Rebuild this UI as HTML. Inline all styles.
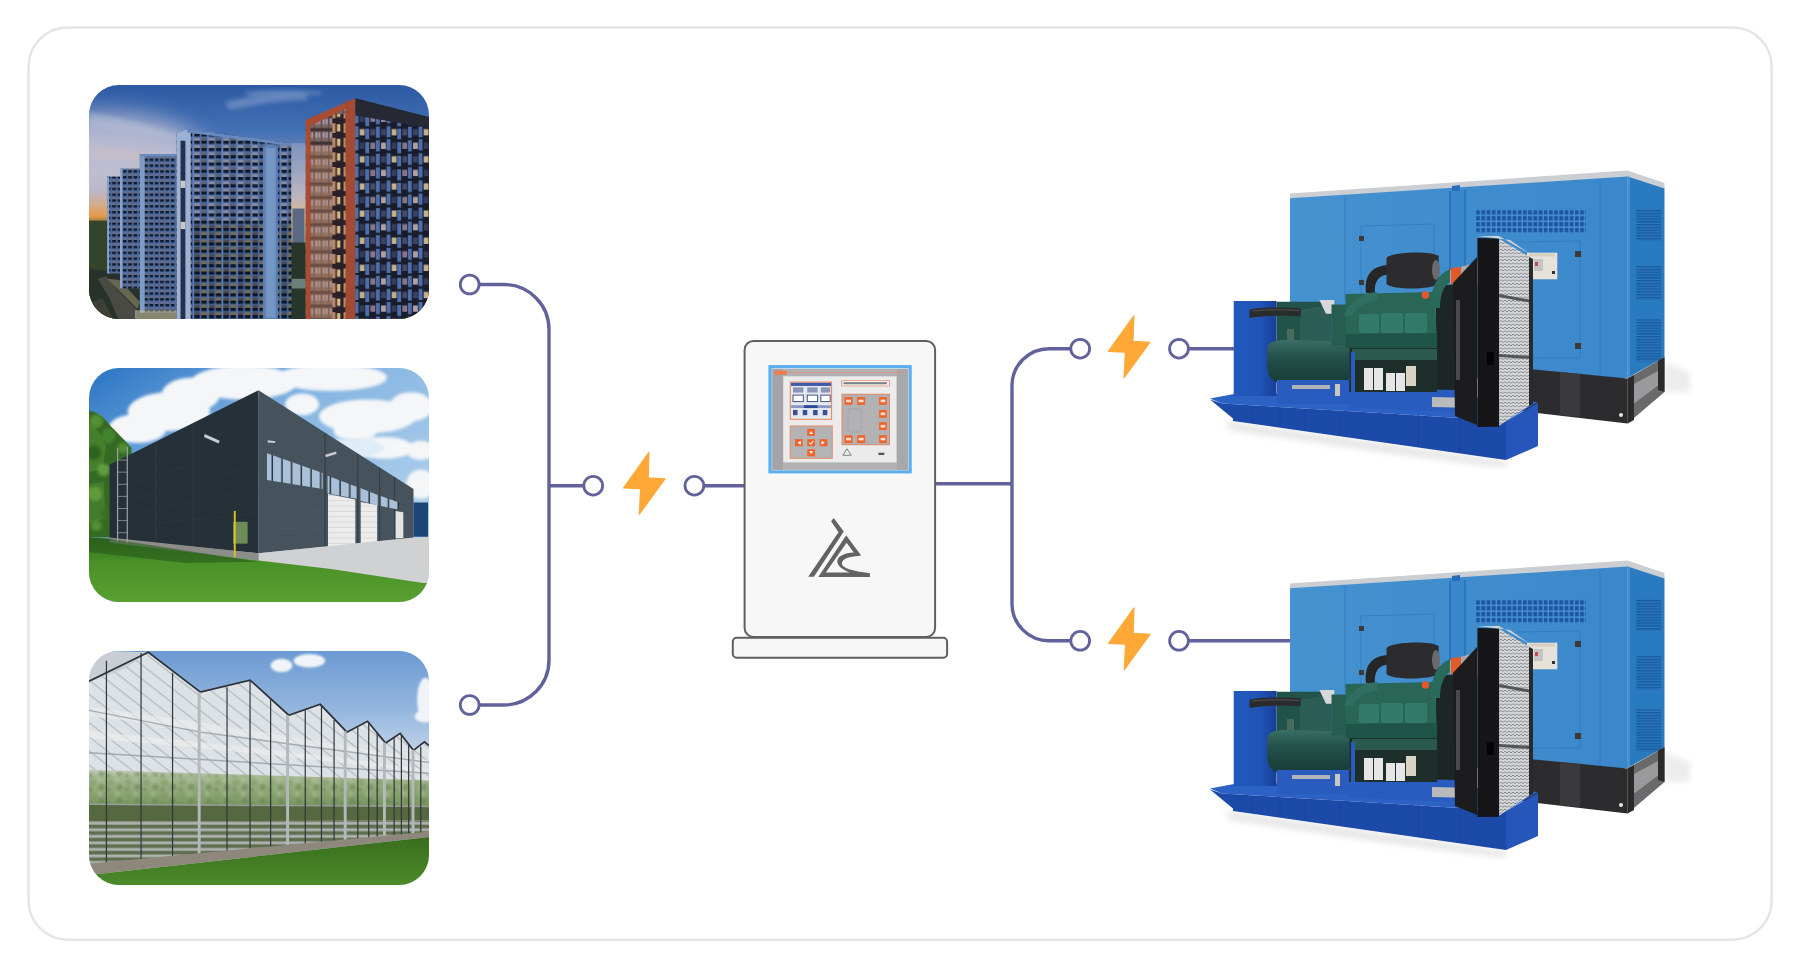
<!DOCTYPE html>
<html><head><meta charset="utf-8">
<style>
html,body{margin:0;padding:0;background:#fff;width:1801px;height:966px;overflow:hidden;font-family:"Liberation Sans",sans-serif;}
.card{position:absolute;left:27px;top:26px;width:1742px;height:911px;border:2px solid #e6e6e6;border-radius:40px;background:#fff;}
.ph{position:absolute;left:89px;width:340px;height:234px;border-radius:30px;overflow:hidden;}
.ph svg{display:block;width:340px;height:234px;}
svg.abs{position:absolute;left:0;top:0;}
</style></head><body>
<svg class="abs" width="1801" height="966"><rect x="28.55" y="27.45" width="1743.1" height="912.2" rx="39" fill="#fff" stroke="#e5e5e5" stroke-width="2.5"/></svg>

<!-- PHOTOS -->
<div class="ph" id="p1" style="top:85px;"><svg viewBox="0 0 1404 966" preserveAspectRatio="none">
<defs>
<filter id="p1blur"><feGaussianBlur stdDeviation="8"/></filter><filter id="p1blur2" x="-50%" y="-50%" width="200%" height="200%"><feGaussianBlur stdDeviation="50"/></filter>
<linearGradient id="p1pale" x1="0" y1="0" x2="1" y2="0"><stop offset="0" stop-color="#c8c4d4" stop-opacity="0.55"/><stop offset="1" stop-color="#c8c4d4" stop-opacity="0"/></linearGradient>
<linearGradient id="p1sky" x1="0" y1="0" x2="0" y2="1">
<stop offset="0" stop-color="#2c5aa4"/><stop offset="0.2" stop-color="#4470b4"/><stop offset="0.33" stop-color="#7a90bc"/>
<stop offset="0.44" stop-color="#a8a4b8"/><stop offset="0.51" stop-color="#d8a878"/><stop offset="0.56" stop-color="#e89a48"/><stop offset="0.6" stop-color="#5a6a40"/><stop offset="1" stop-color="#2a3a26"/>
</linearGradient>
<linearGradient id="p1gap" x1="0" y1="0" x2="0" y2="1">
<stop offset="0" stop-color="#7c94c0"/><stop offset="0.5" stop-color="#b8b4c0"/><stop offset="0.75" stop-color="#e0b888"/><stop offset="1" stop-color="#c8a070"/>
</linearGradient>
<pattern id="p1wD" patternUnits="userSpaceOnUse" width="60" height="30" x="10" y="5">
<rect width="60" height="30" fill="#4e72ac"/><rect x="5" y="3" width="22" height="12" fill="#8a8a9c"/><rect x="5" y="15" width="22" height="13" fill="#131a2a"/><rect x="34" y="3" width="22" height="12" fill="#5e6072"/><rect x="34" y="15" width="22" height="13" fill="#111726"/><rect x="0" y="0" width="3" height="30" fill="#7090c4"/>
</pattern>
<pattern id="p1wD2" patternUnits="userSpaceOnUse" width="60" height="30" x="10" y="5">
<rect width="60" height="30" fill="#46689e"/><rect x="5" y="3" width="22" height="12" fill="#4c4a50"/><rect x="5" y="15" width="22" height="13" fill="#0f1522"/><rect x="34" y="3" width="22" height="12" fill="#7a6a50"/><rect x="34" y="15" width="22" height="13" fill="#0f1522"/><rect x="0" y="0" width="3" height="30" fill="#6888bc"/>
</pattern>
<pattern id="p1wC" patternUnits="userSpaceOnUse" width="22" height="24" x="4" y="4">
<rect width="22" height="24" fill="#4a6ca4"/><rect x="4" y="3" width="15" height="9" fill="#6a6c80"/><rect x="4" y="12" width="15" height="10" fill="#121a2a"/>
</pattern>
<pattern id="p1wE" patternUnits="userSpaceOnUse" width="132" height="112" x="14" y="0">
<rect width="132" height="112" fill="#191d2b"/>
<g fill="#4d6fae"><rect x="27" y="0" width="16" height="46"/><rect x="71" y="12" width="16" height="46"/><rect x="115" y="4" width="16" height="46"/><rect x="27" y="58" width="16" height="46"/><rect x="71" y="68" width="16" height="44"/><rect x="115" y="60" width="16" height="46"/></g>
<rect x="4" y="14" width="20" height="26" fill="#b0a0a4"/><rect x="48" y="14" width="20" height="26" fill="#383c58"/><rect x="92" y="14" width="20" height="26" fill="#8a7488"/>
<rect x="4" y="70" width="20" height="26" fill="#3c4262"/><rect x="48" y="70" width="20" height="26" fill="#c4b08e"/><rect x="92" y="70" width="20" height="26" fill="#4a4a66"/>
</pattern>
<pattern id="p1wEL" patternUnits="userSpaceOnUse" width="30" height="56" x="0" y="20">
<rect width="30" height="56" fill="#4e3e40"/><rect x="3" y="6" width="24" height="40" fill="#a4949c"/><rect x="14" y="6" width="3" height="40" fill="#6a5a62"/><rect x="3" y="30" width="24" height="16" fill="#7a6460"/><rect x="0" y="46" width="30" height="10" fill="#3e3030"/>
</pattern>
<pattern id="p1wEC" patternUnits="userSpaceOnUse" width="55" height="60" x="0" y="30">
<rect width="55" height="60" fill="#2a2028"/><rect x="6" y="8" width="22" height="40" fill="#b88a6a"/><rect x="34" y="12" width="14" height="30" fill="#d8b880"/>
</pattern>
</defs>
<rect width="1404" height="966" fill="url(#p1sky)"/>
<ellipse cx="60" cy="290" rx="420" ry="170" fill="#c8c4d6" opacity="0.85" filter="url(#p1blur2)"/>
<g filter="url(#p1blur)">
<path d="M0,115 C150,135 300,185 380,205 L380,232 C280,215 120,190 0,175Z" fill="#b8c0d8" opacity="0.5"/>
<path d="M0,250 C120,260 250,280 380,295 L380,330 C250,320 100,305 0,305Z" fill="#d4c0c0" opacity="0.45"/>
<path d="M560,70 C700,40 820,30 900,40 L900,62 C800,62 680,82 580,102Z" fill="#98acd4" opacity="0.5"/>
<path d="M640,30 C740,20 840,20 960,28 L960,40 C840,36 740,38 660,46Z" fill="#a8b8dc" opacity="0.45"/>
</g>
<rect x="835" y="240" width="60" height="420" fill="url(#p1gap)"/>
<rect x="840" y="510" width="50" height="150" fill="#5a6a84"/>
<rect x="835" y="650" width="60" height="316" fill="#27362a"/>
<rect x="835" y="800" width="60" height="40" fill="#6a8078"/>
<rect x="0" y="560" width="80" height="406" fill="#34442c"/>
<path d="M0,760 L360,800 L360,966 L0,966Z" fill="#26322a"/>
<path d="M35,800 L70,790 L120,850 L200,930 L190,966 L120,966 L85,880Z" fill="#4a4a44"/>
<path d="M75,800 L125,805 L210,895 L200,925Z" fill="#b8a880" opacity="0.45"/>
<path d="M0,900 L55,880 L100,966 L0,966Z" fill="#3e4036"/>
<rect x="75" y="378" width="56" height="400" fill="url(#p1wC)"/>
<rect x="75" y="378" width="8" height="400" fill="#8aa4cc"/>
<rect x="128" y="345" width="87" height="495" fill="url(#p1wC)"/>
<rect x="128" y="345" width="10" height="495" fill="#8aa4cc"/>
<rect x="210" y="285" width="152" height="655" fill="url(#p1wC)"/>
<rect x="210" y="285" width="20" height="655" fill="#7e9cc8"/>
<rect x="210" y="285" width="152" height="10" fill="#6c8cc0"/>
<rect x="190" y="930" width="180" height="36" fill="#c8c0a0" opacity="0.6"/>
<path d="M362,200 L405,183 L835,240 L835,966 L362,966Z" fill="url(#p1wD)"/>
<path d="M420,560 L835,570 L835,966 L420,966Z" fill="url(#p1wD2)"/>
<path d="M362,200 L405,183 L420,190 L420,966 L362,966Z" fill="#9ab2d6"/>
<rect x="378" y="230" width="20" height="736" fill="#26304a"/>
<rect x="378" y="395" width="20" height="30" fill="#c8c8c8"/>
<rect x="378" y="565" width="20" height="30" fill="#c8c8c8"/>
<rect x="718" y="250" width="62" height="716" fill="#5a80b8"/>
<rect x="730" y="260" width="40" height="700" fill="#a8bcd8" opacity="0.35"/>
<path d="M405,183 L835,240 L835,252 L405,196Z" fill="#6888c0"/>
<path d="M895,145 L1100,55 L1100,966 L895,966Z" fill="url(#p1wEL)"/>
<path d="M915,250 L1005,250 L1005,966 L915,966Z" fill="#c08860" opacity="0.35"/>
<rect x="1005" y="120" width="55" height="846" fill="url(#p1wEC)"/>
<path d="M895,145 L1100,55 L1100,80 L915,168 L915,966 L895,966Z" fill="#a84c34"/>
<rect x="1060" y="65" width="40" height="901" fill="#a44a32"/>
<path d="M1100,55 L1404,135 L1404,966 L1100,966Z" fill="url(#p1wE)"/>
<path d="M1100,55 L1404,132 L1404,178 L1100,126Z" fill="#262934"/>
</svg></div>
<div class="ph" id="p2" style="top:368px;"><svg viewBox="0 0 1404 966" preserveAspectRatio="none">
<defs>
<linearGradient id="p2sky" x1="0" y1="0" x2="1" y2="1">
<stop offset="0" stop-color="#2a74c4"/><stop offset="0.4" stop-color="#86b6e2"/><stop offset="1" stop-color="#c4dcf0"/>
</linearGradient>
<linearGradient id="p2grass" x1="0" y1="0" x2="0" y2="1">
<stop offset="0" stop-color="#2e6a1e"/><stop offset="0.4" stop-color="#4a9228"/><stop offset="1" stop-color="#58a030"/>
</linearGradient>
<pattern id="p2win" patternUnits="userSpaceOnUse" width="40" height="200" x="0" y="0">
<rect width="40" height="200" fill="#a8c0d8"/><rect x="34" width="6" height="200" fill="#2a3036"/>
</pattern>
<pattern id="p2door" patternUnits="userSpaceOnUse" width="20" height="22">
<rect width="20" height="22" fill="#ececec"/><rect y="20" width="20" height="2" fill="#c8c8c8"/>
</pattern>
<filter id="blur6"><feGaussianBlur stdDeviation="6"/></filter>
</defs>
<rect width="1404" height="966" fill="url(#p2sky)"/>
<g fill="#f4f6f8" filter="url(#blur6)">
<ellipse cx="330" cy="180" rx="170" ry="80"/><ellipse cx="200" cy="250" rx="120" ry="60"/><ellipse cx="420" cy="110" rx="120" ry="70"/>
<ellipse cx="640" cy="60" rx="220" ry="70"/><ellipse cx="1000" cy="40" rx="230" ry="55"/><ellipse cx="880" cy="150" rx="70" ry="45"/>
<ellipse cx="1150" cy="200" rx="200" ry="70"/><ellipse cx="1330" cy="160" rx="90" ry="60"/><ellipse cx="1220" cy="330" rx="120" ry="45"/>
<ellipse cx="1370" cy="340" rx="60" ry="40"/><ellipse cx="1370" cy="480" rx="60" ry="60"/><ellipse cx="1100" cy="260" rx="90" ry="40"/>
</g>
<ellipse cx="1080" cy="330" rx="140" ry="40" fill="#e0ecf6" filter="url(#blur6)"/>
<path d="M0,175 C30,180 60,200 90,240 C120,270 150,300 175,330 L180,700 L0,700Z" fill="#356a24"/>
<path d="M0,230 C30,240 50,280 70,320 L55,420 L0,430Z" fill="#4e8a32" opacity="0.7"/>
<path d="M0,480 L60,470 L70,620 L0,640Z" fill="#4a8430" opacity="0.7"/>
<g filter="url(#blur6)" opacity="0.8"><circle cx="30" cy="220" r="28" fill="#5c9a3a"/><circle cx="80" cy="280" r="30" fill="#4a8a30"/><circle cx="20" cy="350" r="30" fill="#2c5a1c"/><circle cx="60" cy="420" r="26" fill="#6aa848"/><circle cx="140" cy="330" r="22" fill="#5a9638"/><circle cx="25" cy="520" r="30" fill="#6aa040"/><circle cx="70" cy="600" r="24" fill="#3a7024"/><circle cx="30" cy="650" r="22" fill="#5a9a38"/></g>
<path d="M85,398 L180,352 L700,92 L700,765 L85,705Z" fill="#263038"/>
<g stroke="#34404a" stroke-width="2" opacity="0.8"><path d="M180,420 L700,200"/><path d="M180,480 L700,300"/><path d="M180,540 L700,400"/><path d="M180,600 L700,500"/><path d="M180,650 L700,600"/></g>
<path d="M700,92 L1340,500 L1340,702 L700,765Z" fill="#46525c"/>
<g stroke="#52606a" stroke-width="2" opacity="0.8"><path d="M700,240 L1340,560"/><path d="M700,560 L1340,640"/><path d="M700,660 L1340,675"/></g>
<g stroke="#323c44" stroke-width="4">
<path d="M430,238 V735"/><path d="M275,315 V718"/><path d="M975,270 V745"/><path d="M1110,355 V728"/><path d="M1200,412 V718"/><path d="M1262,450 V710"/>
</g>
<path d="M735,352 L965,433 L965,500 L735,462Z" fill="url(#p2win)"/>
<path d="M985,445 L1105,490 L1105,540 L985,518Z" fill="url(#p2win)"/>
<path d="M1120,495 L1195,525 L1195,568 L1120,548Z" fill="url(#p2win)"/>
<path d="M1205,528 L1280,555 L1280,585 L1205,570Z" fill="url(#p2win)"/>
<path d="M987,520 L1100,543 L1100,735 L987,745Z" fill="url(#p2door)"/>
<path d="M1122,553 L1190,566 L1190,718 L1122,724Z" fill="url(#p2door)"/>
<path d="M1266,590 L1298,595 L1298,702 L1266,704Z" fill="#e4e4e4"/>
<path d="M1340,555 L1400,555 L1400,697 L1340,697Z" fill="#1c4678"/>
<path d="M700,765 L1340,700 L1404,700 L1404,888 L1380,888 L1000,832 L700,800Z" fill="#cfd1d2"/>
<path d="M85,700 L700,765 L700,795 L85,720Z" fill="#8c8c88"/>
<path d="M0,700 L85,705 L85,720 L700,795 L1000,830 L1380,888 L1404,888 L1404,966 L0,966Z" fill="url(#p2grass)"/>
<path d="M0,700 L85,705 L700,800 L400,805 L0,760Z" fill="#2a5a1a" opacity="0.6"/>
<g stroke="#9aa4a8" stroke-width="5" fill="none"><path d="M118,330 V715"/><path d="M158,325 V720"/></g>
<g stroke="#9aa4a8" stroke-width="3"><path d="M118,380 H158 M118,430 H158 M118,480 H158 M118,530 H158 M118,580 H158 M118,630 H158 M118,680 H158"/></g>
<rect x="595" y="635" width="60" height="90" fill="#6e8c58"/>
<rect x="598" y="590" width="8" height="190" fill="#d8c020"/>
<path d="M478,272 L540,300 L535,312 L475,285Z" fill="#c8ccd0"/>
<path d="M738,298 L770,302 L768,310 L738,308Z" fill="#c8ccd0"/>
<path d="M975,358 L1020,345 L1022,355 L978,368Z" fill="#c8ccd0"/>
</svg></div>
<div class="ph" id="p3" style="top:651px;"><svg viewBox="0 0 1404 966" preserveAspectRatio="none">
<defs>
<linearGradient id="p3sky" x1="0" y1="0" x2="0" y2="1">
<stop offset="0" stop-color="#6c9ad2"/><stop offset="0.25" stop-color="#94b6de"/><stop offset="0.45" stop-color="#c4d6ea"/><stop offset="1" stop-color="#e0e8f0"/>
</linearGradient>
<linearGradient id="p3plant" x1="0" y1="0" x2="0" y2="1">
<stop offset="0" stop-color="#c8d0c0"/><stop offset="0.2" stop-color="#a4b890"/><stop offset="1" stop-color="#7a9660"/>
</linearGradient>
<linearGradient id="p3grass" x1="0" y1="0" x2="0" y2="1">
<stop offset="0" stop-color="#3a6e1e"/><stop offset="1" stop-color="#4c8a2a"/>
</linearGradient>
<pattern id="p3slat" patternUnits="userSpaceOnUse" width="20" height="27" x="0" y="703">
<rect width="20" height="27" fill="#5e6e4e"/><rect y="2" width="20" height="12" fill="#aeb2ae"/>
</pattern>
<pattern id="p3roof" patternUnits="userSpaceOnUse" width="46" height="46" patternTransform="rotate(38)">
<rect width="46" height="46" fill="#dde2e6"/><rect width="46" height="5" fill="#b4bac0"/>
</pattern>
<pattern id="p3tree" patternUnits="userSpaceOnUse" width="74" height="58">
<circle cx="15" cy="22" r="14" fill="#7e9a62" opacity="0.55"/><circle cx="52" cy="40" r="13" fill="#62804a" opacity="0.5"/><circle cx="44" cy="10" r="9" fill="#b4c6a4" opacity="0.5"/><circle cx="8" cy="50" r="8" fill="#5a7840" opacity="0.5"/>
</pattern>
<filter id="blur4"><feGaussianBlur stdDeviation="4"/></filter>
</defs>
<rect width="1404" height="966" fill="url(#p3sky)"/>
<g fill="#f0f4f8" filter="url(#blur4)"><ellipse cx="795" cy="60" rx="45" ry="28"/><ellipse cx="910" cy="40" rx="65" ry="28"/><ellipse cx="1390" cy="200" rx="35" ry="90"/><ellipse cx="1390" cy="270" rx="45" ry="25"/></g>
<path d="M0,0 L245,5 L460,170 L665,120 L825,265 L955,220 L1065,335 L1150,290 L1225,380 L1285,340 L1340,410 L1385,375 L1404,390 L1404,760 L0,920Z" fill="url(#p3roof)"/>
<path d="M0,0 L245,5 L150,70 L0,130Z" fill="#c8ced4"/>
<path d="M0,230 C300,270 700,330 1404,450 L1404,470 C700,360 300,300 0,270Z" fill="#eceeee" opacity="0.6"/>
<path d="M0,330 C400,370 900,420 1404,490 L1404,505 C900,440 400,395 0,360Z" fill="#eeeeec" opacity="0.6"/>
<path d="M0,490 L1404,535 L1404,640 L0,633Z" fill="url(#p3plant)"/>
<path d="M0,495 L1404,538 L1404,636 L0,630Z" fill="url(#p3tree)" filter="url(#blur4)"/>
<path d="M0,633 L1404,640 L1404,700 L0,703Z" fill="#56683f"/>
<path d="M0,703 L1404,700 L1404,752 L0,880Z" fill="url(#p3slat)"/>
<g stroke="#9ca2a8" stroke-width="6" fill="none" opacity="0.85">
<path d="M0,245 L460,335 L1404,460"/><path d="M0,420 L1404,505"/><path d="M0,633 L1404,642"/>
</g>
<g stroke="#2e3236" stroke-width="7" fill="none">
<path d="M0,125 L245,5 L460,170 L665,120 L825,265 L955,220 L1065,335 L1150,290 L1225,380 L1285,340 L1340,410 L1385,375 L1404,390"/>
</g>
<g stroke="#33373a" stroke-width="5">
<path d="M72,40 V880"/><path d="M215,8 V866"/><path d="M345,90 V852"/><path d="M570,150 V830"/><path d="M665,120 V820"/><path d="M750,200 V810"/><path d="M893,240 V795"/><path d="M960,222 V790"/><path d="M1012,285 V785"/><path d="M1110,315 V775"/><path d="M1155,292 V770"/><path d="M1190,335 V768"/><path d="M1260,360 V765"/><path d="M1290,345 V762"/><path d="M1320,385 V760"/><path d="M1370,395 V758"/>
</g>
<g stroke="#b4b8ba" stroke-width="12"><path d="M455,170 V840"/><path d="M820,265 V805"/><path d="M1058,330 V780"/><path d="M1220,378 V768"/><path d="M1338,408 V760"/></g>
<path d="M0,878 L1404,745 L1404,768 L0,925Z" fill="#8e887c"/>
<path d="M0,925 L1404,768 L1404,966 L0,966Z" fill="url(#p3grass)"/>
</svg></div>

<!-- CONNECTORS -->
<svg class="abs" width="1801" height="966" viewBox="0 0 1801 966">
<g fill="none" stroke="#61619b" stroke-width="3.4">
<path d="M480,284.5 H504 A45,45 0 0 1 549,329.5 V660 A45,45 0 0 1 504,705 H480"/>
<path d="M549,485.7 H584"/>
<path d="M704,485.7 H745"/>
<path d="M935,483.7 H1012"/>
<path d="M1070,348.7 H1049 A37,37 0 0 0 1012,385.7 V603.7 A37,37 0 0 0 1049,640.7 H1070"/>
<path d="M1189,348.7 H1234"/>
<path d="M1189,640.7 H1291"/>
</g>
<g fill="#fff" stroke="#61619b" stroke-width="2.8">
<circle cx="469.7" cy="284.5" r="9.4"/>
<circle cx="469.7" cy="705" r="9.4"/>
<circle cx="593.2" cy="485.7" r="9.4"/>
<circle cx="694.4" cy="485.7" r="9.4"/>
<circle cx="1080.2" cy="348.7" r="9.4"/>
<circle cx="1179" cy="348.7" r="9.4"/>
<circle cx="1080.2" cy="640.8" r="9.4"/>
<circle cx="1179" cy="640.8" r="9.4"/>
</g>
<defs><path id="bolt" d="M26,0.6 L0.6,36.1 L17.6,36.9 L16.3,62.4 L42,27 L25.2,26.1 Z"/></defs>
<g fill="#fda837" stroke="#fda837" stroke-width="1.2" stroke-linejoin="round">
<use href="#bolt" x="623" y="451.8"/>
<use href="#bolt" x="1107.8" y="315.3"/>
<use href="#bolt" x="1108" y="607.3"/>
</g>
</svg>

<!-- CONTROLLER -->
<svg class="abs" width="1801" height="966" viewBox="0 0 1801 966">
<rect x="744.6" y="340.9" width="190.5" height="296.1" rx="9" fill="#f7f7f7" stroke="#5f5f5f" stroke-width="2"/>
<rect x="732.8" y="637.7" width="214.3" height="20.1" rx="4" fill="#f7f7f7" stroke="#5f5f5f" stroke-width="2"/>
<svg x="760" y="355" width="160" height="125" viewBox="0 0 1236 966" preserveAspectRatio="none">
<defs><filter id="cb"><feGaussianBlur stdDeviation="3"/></filter></defs>
<g filter="url(#cb)">
<rect x="65" y="78" width="1107" height="837" fill="#5aaeee"/>
<rect x="90" y="102" width="1058" height="790" fill="#dfe4ea"/>
<rect x="96" y="108" width="1046" height="780" fill="#b2b2b4"/>
<rect x="96" y="108" width="80" height="780" fill="#a4a4a6"/>
<rect x="1060" y="108" width="82" height="780" fill="#a8a8aa"/>
<rect x="180" y="165" width="875" height="665" fill="#ebebeb"/>
<rect x="112" y="122" width="95" height="30" fill="#ee7a44"/>
<rect x="212" y="132" width="905" height="5" fill="#e8906a"/>
<rect x="230" y="205" width="327" height="296" fill="#e8845a"/>
<rect x="238" y="213" width="311" height="280" fill="#e4e8f0"/>
<rect x="240" y="215" width="308" height="24" fill="#3c5aa4"/>
<g fill="#3a5090"><rect x="255" y="250" width="80" height="40" fill="#8a96b8"/><rect x="365" y="250" width="80" height="40" fill="#8a96b8"/><rect x="470" y="250" width="72" height="40" fill="#8a96b8"/>
<rect x="255" y="310" width="80" height="50" fill="#fff" stroke="#4a5a88" stroke-width="8"/><rect x="365" y="310" width="80" height="50" fill="#fff" stroke="#4a5a88" stroke-width="8"/><rect x="470" y="310" width="72" height="50" fill="#fff" stroke="#4a5a88" stroke-width="8"/>
<rect x="240" y="388" width="308" height="22" fill="#8a98c0"/><rect x="340" y="388" width="105" height="22" fill="#2c4a98"/>
<rect x="255" y="425" width="35" height="40"/><rect x="330" y="425" width="35" height="40"/><rect x="410" y="425" width="35" height="40"/><rect x="485" y="425" width="35" height="40"/></g>
<rect x="230" y="545" width="332" height="257" fill="#e8845a"/>
<rect x="237" y="552" width="318" height="243" fill="#b4b4b6"/>
<g fill="#f0642c"><rect x="365" y="570" width="60" height="55"/><rect x="270" y="650" width="60" height="55"/><rect x="365" y="650" width="60" height="55"/><rect x="460" y="650" width="60" height="55"/><rect x="365" y="728" width="60" height="55"/></g>
<g fill="#fff"><path d="M380,610 L395,588 L410,610Z"/><path d="M315,662 L290,678 L315,694Z"/><path d="M475,662 L500,678 L475,694Z"/><path d="M380,742 L395,765 L410,742Z"/></g>
<rect x="628" y="195" width="375" height="47" fill="#e8845a"/>
<rect x="634" y="200" width="363" height="37" fill="#f0f0f0"/>
<rect x="645" y="210" width="335" height="16" fill="#7a8088"/>
<rect x="630" y="300" width="374" height="397" fill="#e8845a"/>
<rect x="637" y="307" width="360" height="383" fill="#b2b2b4"/>
<g fill="#f0642c"><rect x="652" y="325" width="63" height="60"/><rect x="750" y="325" width="62" height="60"/><rect x="920" y="325" width="60" height="60"/><rect x="920" y="425" width="60" height="60"/><rect x="920" y="520" width="60" height="60"/><rect x="652" y="620" width="63" height="60"/><rect x="750" y="620" width="62" height="60"/><rect x="920" y="620" width="60" height="60"/></g>
<g fill="#fde0d0"><rect x="665" y="345" width="38" height="20"/><rect x="762" y="345" width="38" height="20"/><rect x="932" y="345" width="36" height="20"/><rect x="932" y="445" width="36" height="20"/><rect x="932" y="540" width="36" height="20"/><rect x="665" y="640" width="38" height="20"/><rect x="762" y="640" width="38" height="20"/><rect x="932" y="640" width="36" height="20"/></g>
<path d="M380,678 L392,690 L412,664" stroke="#fff" stroke-width="8" fill="none"/>
<rect x="680" y="415" width="100" height="180" rx="20" fill="none" stroke="#888" stroke-width="4" stroke-dasharray="10 8"/>
<path d="M640,775 L672,725 L705,775Z" fill="none" stroke="#666" stroke-width="6"/>
<rect x="915" y="755" width="45" height="18" fill="#555"/>
</g>
</svg>
<path fill="#636363" fill-rule="evenodd" d="M831.1,521.3 L833.7,518 L843.8,531.4 L813.9,576.7 L808.2,576.7 L838.5,532.3 Z
M818.3,576.9 L846.2,535.2 L861.1,555.4 L858.5,556 C850,556.5 842,558.5 841.8,563.5 C841.8,568 852,571 869.9,573.2 L869.9,576.9 Z
M825.8,572.4 L846.6,542.7 L853.8,552.5 C845,553 837.3,556 837.3,561.5 C837.3,566 843,570 849.7,572.4 Z"/>
</svg>

<!-- GENERATORS -->
<svg class="abs" id="gen1" style="left:1200px;top:160px" width="520" height="310" viewBox="1200 160 520 310"><g id="genG"><defs>
<pattern id="gvent" patternUnits="userSpaceOnUse" width="5.2" height="5.9" x="1475.3" y="209.3">
<rect width="5.2" height="5.9" fill="#4690d2"/><rect x="0.9" y="0.9" width="3.8" height="4.4" fill="#1c56a4"/>
</pattern>
<pattern id="glouv" patternUnits="userSpaceOnUse" width="4" height="2.8">
<rect width="4" height="2.8" fill="#2a78bc"/><rect width="4" height="1.4" fill="#1a5a9e"/>
</pattern>
<pattern id="gmesh" patternUnits="userSpaceOnUse" width="4" height="3.4">
<rect width="4" height="3.4" fill="#d4d6d8"/><path d="M0,1.7 Q1,0.2 2,1.7 T4,1.7" stroke="#6e7276" stroke-width="0.8" fill="none"/>
</pattern>
<linearGradient id="gfront" x1="0" y1="0" x2="1" y2="0"><stop offset="0" stop-color="#4692d0"/><stop offset="1" stop-color="#3a88cb"/></linearGradient>
<linearGradient id="galt" x1="0" y1="0" x2="0" y2="1">
<stop offset="0" stop-color="#3a6e66"/><stop offset="0.35" stop-color="#24524a"/><stop offset="1" stop-color="#163a34"/>
</linearGradient>
<linearGradient id="gpanel" x1="0" y1="0" x2="1" y2="0">
<stop offset="0" stop-color="#2258bc"/><stop offset="0.6" stop-color="#2154b6"/><stop offset="1" stop-color="#183e98"/>
</linearGradient>
<filter id="gsh"><feGaussianBlur stdDeviation="3"/></filter>
</defs>
<path d="M1225,421 L1380,443 L1506,461 L1506,468 L1380,452 L1230,430Z" fill="#d0d0d0" filter="url(#gsh)" opacity="0.55"/>
<path d="M1664,362 L1690,372 L1690,392 L1664,392Z" fill="#ececec" filter="url(#gsh)"/>
<path d="M1290,193.6 L1627.5,170.5 L1664.5,183 L1664.5,189 L1627.5,177 L1290,198.8Z" fill="#cbced2"/>
<path d="M1290,198.3 L1627.5,176.5 L1627.5,378 L1290,378Z" fill="url(#gfront)"/>
<path d="M1627.5,176.5 L1664.5,188.5 L1664.5,357 L1627.5,378Z" fill="#2a7abf"/>
<path d="M1627.5,176.5 L1630,177 L1630,377 L1627.5,378Z" fill="#4690d4"/>
<path d="M1449,191 L1466,190 L1466,270 L1449,270Z" fill="#3a88cc"/>
<path d="M1449,191 L1451,191 L1451,270 L1449,270Z M1464,190 L1466,190 L1466,270 L1464,270Z" fill="#2c74c0"/>
<path d="M1452,186 L1460,185 L1460,191 L1452,191Z" fill="#2a6cbc"/>
<rect x="1475.3" y="209.3" width="110.7" height="24.7" fill="url(#gvent)"/>
<rect x="1636.3" y="208.9" width="25" height="32" fill="url(#glouv)"/>
<rect x="1636.3" y="266.2" width="25" height="33.5" fill="url(#glouv)"/>
<rect x="1636.3" y="319.3" width="25" height="42" fill="url(#glouv)"/>
<g fill="none" stroke="#2c72bc" stroke-width="0.6">
<path d="M1361,226 L1434,224 L1434,300"/><path d="M1361,226 L1361,300"/>
<path d="M1515,242 L1580,241 L1580,358 L1515,358"/>
<path d="M1600,180 L1600,376"/><path d="M1345,196 L1345,300"/>
</g>
<rect x="1527" y="252.7" width="30.3" height="26.6" fill="#e6e2da"/>
<rect x="1529" y="253.5" width="26" height="3" fill="#d8cfc0"/>
<rect x="1534" y="259" width="9" height="12" fill="#c4c4c8"/><rect x="1535" y="262" width="3" height="4" fill="#c05050"/><rect x="1552" y="271" width="3" height="3" fill="#333"/>
<g fill="#3a3a3a"><rect x="1359" y="236" width="5" height="5"/><rect x="1359" y="280" width="5" height="5"/><rect x="1575" y="251" width="6" height="6"/><rect x="1575" y="343" width="6" height="6"/></g>
<path d="M1520,368 L1627.5,378.5 L1627.5,423.5 L1520,411Z" fill="#2c2c2e"/>
<path d="M1560,372 L1580,374 L1580,417 L1560,415Z" fill="#3a3a3c"/>
<path d="M1627.5,378.5 L1664.5,357 L1664.5,392 L1627.5,423.5Z" fill="#6a6a6c"/>
<path d="M1632,385 L1660,370 L1660,384 L1632,405Z" fill="#9a9a9c"/>
<path d="M1627.5,378.5 L1634,375 L1634,420 L1627.5,423.5Z M1658,361 L1664.5,357 L1664.5,392 L1658,390Z" fill="#2a2a2a"/>
<circle cx="1621" cy="415" r="2" fill="#e8e8e8"/>
<path d="M1210,398.5 L1234,394 L1400,392 L1538,402 L1506,421 L1380,413 L1222,403.5Z" fill="#2c62c6"/>
<path d="M1210,399.5 L1222,403.5 L1380,413 L1506,421 L1506,460 L1380,442 L1233,421 L1233,418.5Z" fill="#1c4aa8"/>
<path d="M1506,421 L1538,403 L1538,446 L1506,460Z" fill="#2656ba"/>
<g stroke="#18429a" stroke-width="1" fill="none"><path d="M1252,406 V423"/><path d="M1280,408 V426"/><path d="M1305,409 V430"/><path d="M1340,411 V436"/><path d="M1418,415 V447"/><path d="M1460,418 V453"/></g>
<path d="M1233.7,301 L1276.6,301 L1276.6,396 L1233.7,396Z" fill="url(#gpanel)"/>

<path d="M1276.6,301.7 L1331.5,301.7 L1331.5,349.2 L1276.6,349.2Z" fill="#22534b"/>
<path d="M1300,310 L1330,305 L1331.5,345 L1300,345Z" fill="#2c5e56"/>
<rect x="1287" y="329" width="7" height="13" fill="#4a6a5e"/>
<path d="M1249.6,309.5 C1262,307 1285,307 1300.8,308.5 L1300.8,316.5 C1285,315 1262,316 1249.6,318Z" fill="#2a2c2c"/><path d="M1252,311 C1265,309.5 1285,309.5 1299,310.5" stroke="#505454" stroke-width="1" fill="none"/>
<path d="M1267.3,350 C1267.3,341 1275,340 1290,340 L1349.2,341.8 L1349.2,384.6 L1290,385 C1275,385 1267.3,378 1267.3,368Z" fill="url(#galt)"/>
<path d="M1319.4,300 L1334.3,300 L1334.3,313.8 L1326,313.8Z" fill="#d6d8da"/>
<path d="M1331.5,304.5 L1349.2,304.5 L1349.2,345.5 L1331.5,345.5Z" fill="#275c50"/>
<path d="M1277,380 L1352,380 L1352,404 L1277,404Z" fill="#2a5cc0"/>
<path d="M1292,385 L1330,385 L1330,389 L1292,389Z" fill="#b0b4b8"/><path d="M1335,384 L1340,384 L1340,396 L1335,396Z" fill="#c8c8c0"/>
<path d="M1436,286 L1458,284 L1458,405 L1436,405Z" fill="#1c2624"/>
<path d="M1350,388 L1458,390 L1458,412 L1350,408Z" fill="#2a5cc0"/>
<path d="M1345.5,294 L1435,292 L1437,346 L1345.5,346Z" fill="#2a6656"/>
<g fill="#347a68"><rect x="1359" y="314" width="20" height="19" rx="2"/><rect x="1381" y="313" width="22" height="20" rx="2"/><rect x="1405" y="313" width="22" height="20" rx="2"/></g>
<path d="M1345.5,334 L1437,333 L1437,348 L1345.5,348Z" fill="#1f5448"/>
<path d="M1349.2,348 L1437,348 L1437,392 L1349.2,392Z" fill="#1e2e2a"/>
<path d="M1352,349 L1437,349 L1437,360 L1352,360Z" fill="#2a5a4c"/>
<g fill="#e6e6e6"><rect x="1364" y="368" width="9" height="22"/><rect x="1374" y="368" width="9" height="22"/><rect x="1386" y="373" width="9" height="18"/><rect x="1396" y="373" width="9" height="18"/></g>
<rect x="1406" y="366" width="10" height="20" fill="#d8d4c4"/>
<rect x="1351" y="352" width="4" height="42" fill="#2a5cc0"/>
<path d="M1366,293 C1364,275 1372,266 1388,265 L1390,274 C1378,275 1374,282 1375,293Z" fill="#262626"/>
<path d="M1386.5,258 C1390,252 1430,250 1438.7,256 L1438.7,284 C1430,290 1392,290 1386.5,284Z" fill="#2c2c2e"/>
<ellipse cx="1436" cy="270" rx="4" ry="10" fill="#6a6a6c"/>
<path d="M1343.7,316 C1350,300 1365,292 1377,292 L1378,300 C1366,302 1356,308 1352,316Z" fill="#2f6e60"/>
<path d="M1431,308 C1430,285 1440,270 1455.5,268 L1455.5,280 C1445,282 1440,292 1440,308Z" fill="#2a6a5c"/>
<circle cx="1425.5" cy="295" r="3.8" fill="#e0582c"/>
<path d="M1450,270 L1478,262 L1478,286 L1450,284Z" fill="#a8aaac"/>
<path d="M1451,268 L1461,267 L1461,285 L1451,284Z" fill="#e05a2a"/>
<path d="M1432,397 L1475,398 L1475,408 L1432,407Z" fill="#b8babc"/>
<path d="M1453,283 L1477,257 L1477,425 L1455,416Z" fill="#1c1c1e"/>
<path d="M1456,300 L1460,300 L1460,380 L1456,380Z" fill="#4a4a4c"/>
<path d="M1477.4,238 L1499.1,238.5 L1499.1,426.7 L1477.4,427Z" fill="#161618"/>
<path d="M1487,352 L1494,352 L1494,365 L1487,365Z" fill="#050505"/>
<path d="M1499.1,238.7 L1531.7,258.3 L1531.7,404 L1499.1,425.7Z" fill="url(#gmesh)"/>
<path d="M1499.1,294 L1531.7,300 L1531.7,303 L1499.1,297Z M1499.1,354 L1531.7,356 L1531.7,359 L1499.1,357Z" fill="#555"/>
<path d="M1529,257 L1533,259 L1533,404 L1529,406Z" fill="#2a2a2a"/>
<path d="M1478,236 L1499,236 L1530,254 L1510,240Z" fill="#d0d2d4"/>
</g></svg>
<svg class="abs" id="gen2" style="left:1200px;top:550px" width="520" height="310" viewBox="1200 160 520 310"><use href="#genG"/></svg>
</body></html>
